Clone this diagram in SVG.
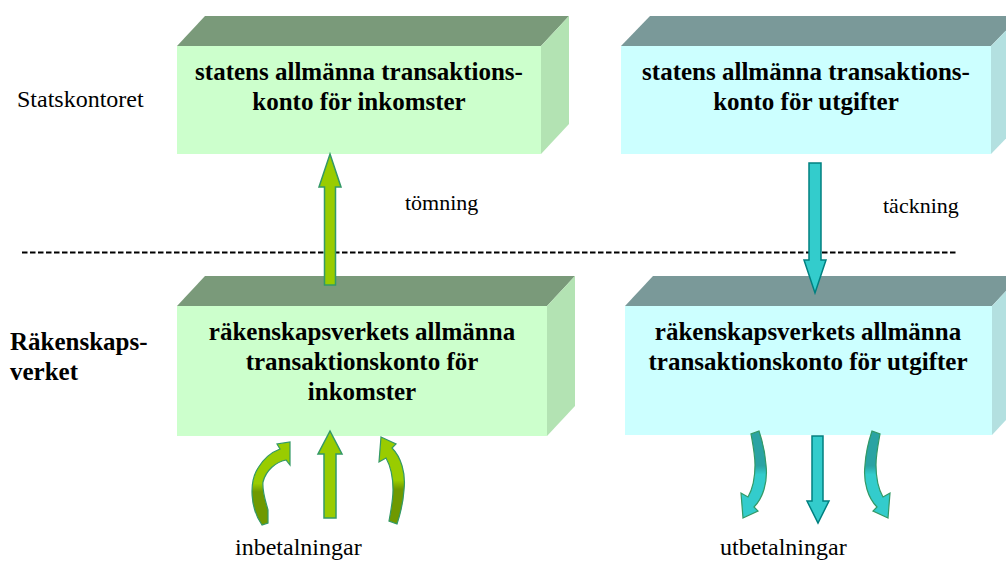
<svg xmlns="http://www.w3.org/2000/svg" width="1006" height="561" viewBox="0 0 1006 561" font-family="'Liberation Serif', 'Times New Roman', Times, serif">
<defs>
<style>
text{font-family:'Liberation Serif','Times New Roman',Times,serif}
.lbl{fill:#000}
.box{font-weight:bold;font-size:25px;fill:#000;text-anchor:middle}
.gTop{fill:#7a9a7a}.gFront{fill:#ccffcc}.gSide{fill:#b3e3b3}
.tTop{fill:#7a9999}.tFront{fill:#ccffff}.tSide{fill:#b3e0e0}
.arG{fill:#99cc00;stroke:#339966;stroke-width:1.5;stroke-linejoin:miter}
.arT{fill:#33cccc;stroke:#008080;stroke-width:1.5;stroke-linejoin:miter}
.cG{fill:url(#gradG);stroke:#339966;stroke-width:1.2;stroke-linejoin:miter}
.cT{fill:url(#gradT);stroke:#339966;stroke-width:1.2;stroke-linejoin:miter}
</style>
<linearGradient id="gradG" x1="0" y1="0" x2="0" y2="1">
<stop offset="0" stop-color="#99cc00"/><stop offset="0.5" stop-color="#99cc00"/><stop offset="0.6" stop-color="#6f9900"/><stop offset="1" stop-color="#6f9900"/>
</linearGradient>
<linearGradient id="gradT" x1="0" y1="0" x2="0" y2="1">
<stop offset="0" stop-color="#33cccc"/><stop offset="0.5" stop-color="#33cccc"/><stop offset="0.6" stop-color="#2aa3a3"/><stop offset="1" stop-color="#2aa3a3"/>
</linearGradient>
<path id="curveA" d="M262,525 C250,508 249,482 258,468 C264,458 272,452 280,449 L277,444 L290,442 L290,465 L286,460 C276,462 266,470 263,482 C262,492 266,502 268,510 L268,523 Z"/>
<path id="curveB" d="M381,437 L396,444 L392,448 C401,457 406,473 404,490 C403,505 400,515 397,524 L389,521 C391,510 393,500 393,490 C393,476 390,465 386,458 L379,462 Z"/>
</defs>
<rect width="1006" height="561" fill="#ffffff"/>

<g id="labels">
<text class="lbl" x="17" y="107" font-size="24">Statskontoret</text>
<text class="lbl" x="10" y="350" font-size="25" font-weight="bold">Räkenskaps-</text>
<text class="lbl" x="10" y="380" font-size="25" font-weight="bold">verket</text>
</g>

<g id="divider">
<line x1="22" y1="252.5" x2="957" y2="252.5" stroke="#000" stroke-width="2" stroke-dasharray="5.5 2.5"/>
</g>

<g id="node-stat-inkomster">
<polygon class="gTop" points="177,46 205,16 569,16 541,46"/>
<polygon class="gSide" points="541,46 569,16 569,124 541,154"/>
<rect class="gFront" x="177" y="46" width="364" height="108"/>
<text class="box" x="359" y="80">statens allmänna transaktions-</text>
<text class="box" x="359" y="110">konto för inkomster</text>
</g>

<g id="node-stat-utgifter">
<polygon class="tTop" points="621,46 650,16 1020,16 991,46"/>
<polygon class="tSide" points="991,46 1020,16 1020,124 991,154"/>
<rect class="tFront" x="621" y="46" width="370" height="108"/>
<text class="box" x="806" y="80">statens allmänna transaktions-</text>
<text class="box" x="806" y="110">konto för utgifter</text>
</g>

<g id="node-rv-inkomster">
<polygon class="gTop" points="177,306 205,276 575,276 547,306"/>
<polygon class="gSide" points="547,306 575,276 575,406 547,436"/>
<rect class="gFront" x="177" y="306" width="370" height="130"/>
<text class="box" x="362" y="340">räkenskapsverkets allmänna</text>
<text class="box" x="362" y="370">transaktionskonto för</text>
<text class="box" x="362" y="400">inkomster</text>
</g>

<g id="node-rv-utgifter">
<polygon class="tTop" points="625,306 653,276 1020,276 992,306"/>
<polygon class="tSide" points="992,306 1020,276 1020,405 992,435"/>
<rect class="tFront" x="625" y="306" width="367" height="129"/>
<text class="box" x="808" y="340">räkenskapsverkets allmänna</text>
<text class="box" x="808" y="370">transaktionskonto för utgifter</text>
</g>

<g id="connectors">
<path id="tomning-arrow" class="arG" d="M330,154 L341,187 L335.5,187 L335.5,285 L324.5,285 L324.5,187 L319,187 Z"/>
<path id="tackning-arrow" class="arT" d="M809,163 L821,163 L821,260 L826,260 L815,293 L804,260 L809,260 Z"/>
<path id="inbet-center" class="arG" d="M330,431 L342,454 L336,454 L336,518 L324,518 L324,454 L318,454 Z"/>
<use href="#curveA" class="cG"/>
<use href="#curveB" class="cG"/>
<path id="utbet-center" class="arT" d="M812,436 L823,436 L823,501 L829,501 L818,523 L807,501 L812,501 Z"/>
<use href="#curveB" class="cT" transform="translate(362,955) scale(1,-1)"/>
<use href="#curveB" class="cT" transform="translate(1269,955) scale(-1,-1)"/>
</g>

<g id="flow-labels">
<text class="lbl" x="405" y="210" font-size="22">tömning</text>
<text class="lbl" x="883" y="213" font-size="22">täckning</text>
<text class="lbl" x="235" y="555" font-size="24">inbetalningar</text>
<text class="lbl" x="720" y="555" font-size="24">utbetalningar</text>
</g>
</svg>
